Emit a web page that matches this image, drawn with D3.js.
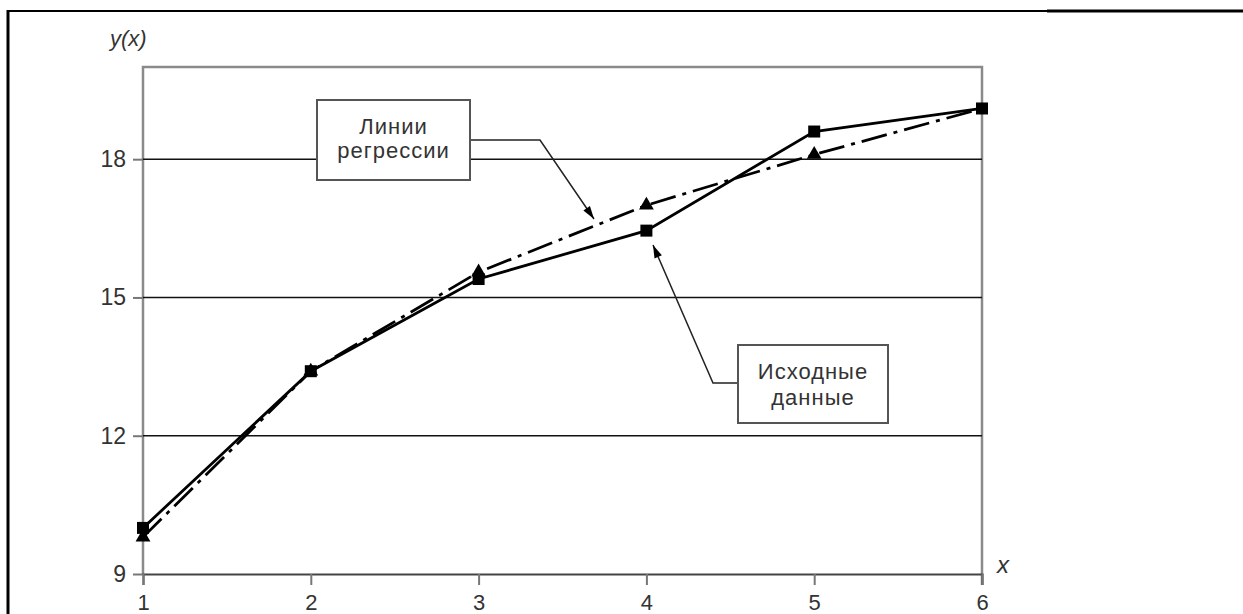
<!DOCTYPE html>
<html>
<head>
<meta charset="utf-8">
<script src="https://cdn.jsdelivr.net/npm/d3@7"></script>
<style>
body{margin:0;background:#fff;}
text{font-family:"Liberation Sans",Arial,sans-serif;}
</style>
</head>
<body>
<div id="chart"></div>
<script>
// data
var xs = [1, 2, 3, 4, 5, 6];
var source = [10.0, 13.4, 15.4, 16.45, 18.6, 19.1];
var regression = [9.8, 13.4, 15.55, 17.0, 18.1, 19.1];
var yTicks = [9, 12, 15, 18];
var xTicks = [1, 2, 3, 4, 5, 6];

var W = 1243, H = 614;
var svg = d3.select("#chart").append("svg").attr("width", W).attr("height", H);

// page frame
svg.append("line").attr("x1", 8).attr("x2", W).attr("y1", 11).attr("y2", 11).attr("stroke", "#000").attr("stroke-width", 2);
svg.append("line").attr("x1", 1047).attr("x2", W).attr("y1", 11).attr("y2", 11).attr("stroke", "#000").attr("stroke-width", 3);
svg.append("line").attr("x1", 8).attr("x2", 8).attr("y1", 10).attr("y2", H).attr("stroke", "#000").attr("stroke-width", 3);

var x = d3.scaleLinear().domain([1, 6]).range([143, 982]);
var y = d3.scaleLinear().domain([9, 20]).range([574, 67]);

// plot frame (gray)
svg.append("path")
  .attr("d", "M" + x(1) + "," + y(9) + "V" + y(20) + "H" + x(6) + "V" + (y(9) + 11))
  .attr("fill", "none").attr("stroke", "#8a8a8a").attr("stroke-width", 2.5);

// horizontal grid lines
svg.append("g").selectAll("line").data(yTicks.filter(function(d){return d > 9;})).enter().append("line")
  .attr("x1", x(1)).attr("x2", x(6))
  .attr("y1", function(d){return y(d);}).attr("y2", function(d){return y(d);})
  .attr("stroke", "#111").attr("stroke-width", 1.6);

// bottom axis
var xAxis = d3.axisBottom(x).tickValues(xTicks).tickSize(11).tickPadding(9).tickFormat(d3.format("d"));
var gx = svg.append("g").attr("transform", "translate(0," + y(9) + ")").call(xAxis);
gx.select(".domain").attr("stroke", "#444").attr("stroke-width", 2);
gx.selectAll(".tick line").attr("stroke", "#777").attr("stroke-width", 2);
gx.selectAll(".tick text").attr("font-size", 22).attr("fill", "#333").attr("font-family", "Liberation Sans, Arial, sans-serif");

// left axis
var yAxis = d3.axisLeft(y).tickValues(yTicks).tickSize(10).tickPadding(7);
var gy = svg.append("g").attr("transform", "translate(" + x(1) + ",0)").call(yAxis);
gy.select(".domain").remove();
gy.selectAll(".tick line").attr("stroke", "#777").attr("stroke-width", 2);
gy.selectAll(".tick text").attr("font-size", 23).attr("fill", "#333").attr("font-family", "Liberation Sans, Arial, sans-serif");

// axis titles
svg.append("text").attr("x", 110).attr("y", 46).attr("font-size", 22).attr("font-style", "italic").attr("fill", "#333").text("y(x)");
svg.append("text").attr("x", 997).attr("y", 573).attr("font-size", 24).attr("font-style", "italic").attr("fill", "#333").text("x");

var line = d3.line().x(function(d){return x(d[0]);}).y(function(d){return y(d[1]);});
var srcPts = xs.map(function(v, i){return [v, source[i]];});
var regPts = xs.map(function(v, i){return [v, regression[i]];});

// regression line (dash-dot)
svg.append("path").datum(regPts).attr("d", line).attr("fill", "none")
  .attr("stroke", "#000").attr("stroke-width", 2.8).attr("stroke-dasharray", "26,7,4,7");
// source data line
svg.append("path").datum(srcPts).attr("d", line).attr("fill", "none")
  .attr("stroke", "#000").attr("stroke-width", 2.8);

// triangles
svg.append("g").selectAll("path").data(regPts.slice(0, 5)).enter().append("path")
  .attr("d", d3.symbol().type(d3.symbolTriangle).size(95))
  .attr("transform", function(d){return "translate(" + x(d[0]) + "," + y(d[1]) + ")";})
  .attr("fill", "#000");
// squares
svg.append("g").selectAll("rect").data(srcPts).enter().append("rect")
  .attr("x", function(d){return x(d[0]) - 6;}).attr("y", function(d){return y(d[1]) - 6;})
  .attr("width", 12).attr("height", 12).attr("fill", "#000");

// callouts
function arrow(pts){
  svg.append("path").attr("d", d3.line()(pts)).attr("fill", "none").attr("stroke", "#222").attr("stroke-width", 1.5);
  var a = pts[pts.length - 2], b = pts[pts.length - 1];
  var ang = Math.atan2(b[1] - a[1], b[0] - a[0]);
  var L = 13, w = 4;
  var p1 = [b[0] - L * Math.cos(ang) + w * Math.sin(ang), b[1] - L * Math.sin(ang) - w * Math.cos(ang)];
  var p2 = [b[0] - L * Math.cos(ang) - w * Math.sin(ang), b[1] - L * Math.sin(ang) + w * Math.cos(ang)];
  svg.append("path").attr("d", "M" + b + "L" + p1 + "L" + p2 + "Z").attr("fill", "#000");
}
function box(bx, by, bw, bh, lines, base, step){
  svg.append("rect").attr("x", bx).attr("y", by).attr("width", bw).attr("height", bh)
    .attr("fill", "#fff").attr("stroke", "#555").attr("stroke-width", 2);
  lines.forEach(function(t, i){
    svg.append("text").attr("x", bx + bw / 2).attr("y", by + base + i * step)
      .attr("text-anchor", "middle").attr("font-size", 22).attr("letter-spacing", 1)
      .attr("fill", "#333").text(t);
  });
}
arrow([[470, 140], [540, 140], [594, 219]]);
box(317, 100, 153, 80, ["Линии", "регрессии"], 34, 24);
arrow([[738, 383], [713, 383], [653, 245]]);
box(738, 345, 150, 78, ["Исходные", "данные"], 34, 26);
</script>
</body>
</html>
